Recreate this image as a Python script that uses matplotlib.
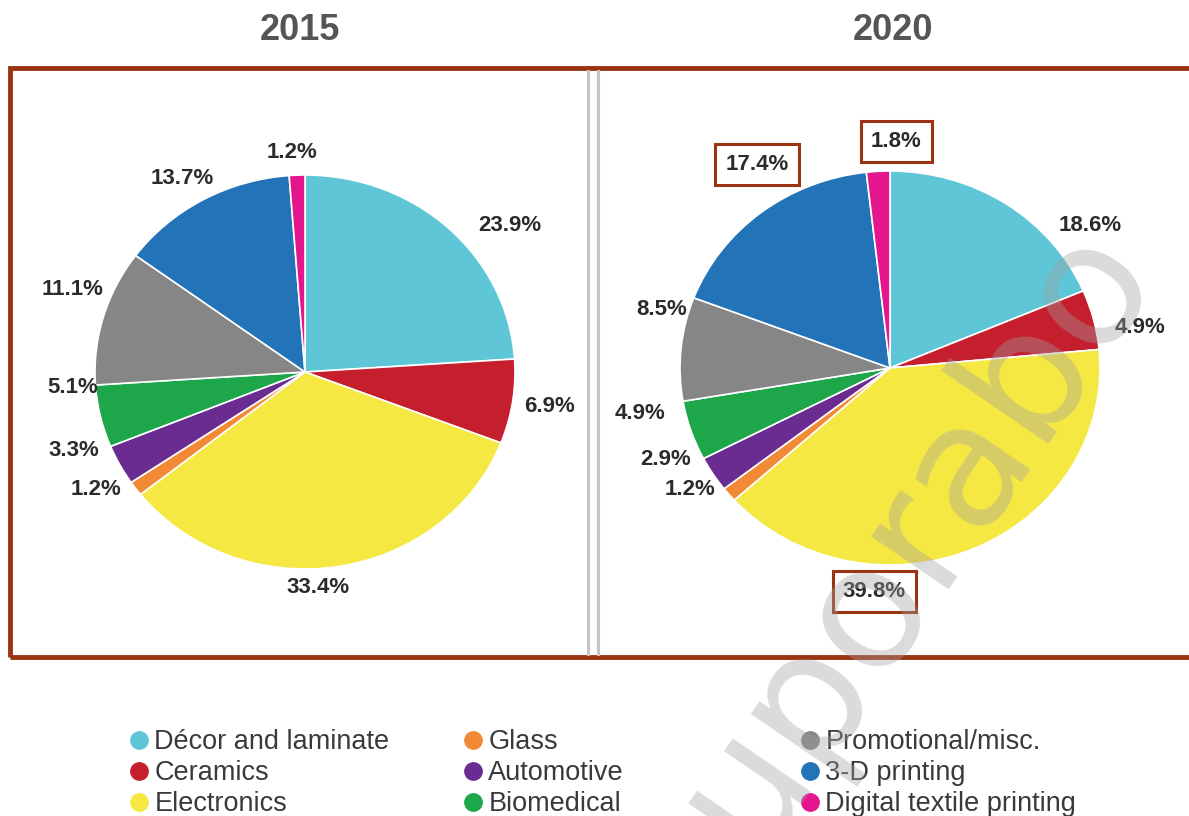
import numpy as np
import matplotlib
matplotlib.use("Agg")
import matplotlib.pyplot as plt
from matplotlib.lines import Line2D
from matplotlib.patches import Rectangle

plt.rcParams["font.family"] = ["Liberation Sans", "DejaVu Sans"]

# data
categories = [
    "Décor and laminate", "Ceramics", "Electronics",
    "Glass", "Automotive", "Biomedical",
    "Promotional/misc.", "3-D printing", "Digital textile printing",
]
share_2015 = [23.9, 6.9, 33.4, 1.2, 3.3, 5.1, 11.1, 13.7, 1.2]
share_2020 = [18.6, 4.9, 39.8, 1.2, 2.9, 4.9, 8.5, 17.4, 1.8]
highlight_2020 = ["3-D printing", "Digital textile printing", "Electronics"]
years = ["2015", "2020"]

colors = [
    "#5ec6d6", "#c51f2e", "#f6e843",
    "#f28a35", "#6a2c91", "#1ea64a",
    "#868686", "#2373b8", "#e4168d",
]

FRAME = "#9b3412"
W, H = 1189, 816
PX = 0.72  # points per pixel at dpi 100

# label nudges in pixels (right, down) from the radial spot
nudge_2015 = [(40, 19), (6, 0), (-23, -8), (-14, -16), (-18, -28),
              (3, -35), (-1, -19), (-6, 5), (-4, 7)]
nudge_2020 = [(67, 46), (16, 15), (-113, 16), (-15, -24), (-21, -30),
              (-21, -27), (12, -36), (15, -24), (20, 0)]


def draw_pie(fig, cx, cy, values, nudges, highlight=()):
    rx, ry = 210, 197
    half = 285
    ax = fig.add_axes([(cx - half) / W, 1 - (cy + half) / H,
                       2 * half / W, 2 * half / H])
    wedges, _ = ax.pie(
        values,
        colors=colors,
        startangle=90,
        counterclock=False,
        wedgeprops=dict(edgecolor="white", linewidth=1.2),
    )
    ax.set_aspect("auto")
    ax.set_xlim(-half / rx, half / rx)
    ax.set_ylim(-half / ry, half / ry)
    ax.axis("off")

    for w, val, name, (dx, dy) in zip(wedges, values, categories, nudges):
        ang = np.deg2rad((w.theta1 + w.theta2) / 2)
        pos = (1.15 * np.cos(ang), 1.15 * np.sin(ang))
        box = None
        if name in highlight:
            box = dict(boxstyle="square,pad=0.45", fc="none", ec=FRAME, lw=2.2)
        ax.annotate(
            f"{val}%",
            xy=pos,
            xytext=(dx * PX, -dy * PX),
            textcoords="offset points",
            ha="center",
            va="center",
            fontsize=16,
            fontweight="bold",
            color="#2b2b2b",
            bbox=box,
        )
    return ax


fig = plt.figure(figsize=(W / 100, H / 100), dpi=100)

draw_pie(fig, 305, 372, share_2015, nudge_2015)
draw_pie(fig, 890, 368, share_2020, nudge_2020, highlight_2020)

# year titles
fig.text(300 / W, 1 - 30 / H, years[0], ha="center", va="center",
         fontsize=26, fontweight="bold", color="#555555")
fig.text(893 / W, 1 - 30 / H, years[1], ha="center", va="center",
         fontsize=26, fontweight="bold", color="#555555")

# outer frame and divider
fig.add_artist(Rectangle((10 / W, 1 - 657 / H), 1200 / W, (657 - 68) / H,
                         transform=fig.transFigure, fill=False,
                         ec=FRAME, lw=3.5, clip_on=False))
for x in (588, 598):
    fig.add_artist(Line2D([x / W, x / W], [1 - 71 / H, 1 - 654 / H],
                          color="#c4c4c4", lw=2.2))

# legend, three columns
col_x = [130, 464, 801]
for c in range(3):
    handles = [
        Line2D([], [], linestyle="none", marker="o", markersize=12.5,
               markerfacecolor=colors[i], markeredgecolor=colors[i])
        for i in range(3 * c, 3 * c + 3)
    ]
    fig.legend(
        handles,
        categories[3 * c:3 * c + 3],
        loc="upper left",
        bbox_to_anchor=(col_x[c] / W, 1 - 729 / H),
        frameon=False,
        borderpad=0,
        borderaxespad=0,
        handlelength=0.7,
        handletextpad=0.2,
        labelspacing=0.19,
        fontsize=19.5,
        labelcolor="#3a3a3a",
    )

# watermark
fig.text(915 / W, 1 - 535 / H, "uporabo", rotation=55.6,
         rotation_mode="anchor", ha="center", va="center",
         fontsize=124, color="#a0a0a0", alpha=0.38,
         family="DejaVu Sans", zorder=10)

fig.savefig("out.png", dpi=100, facecolor="white")
